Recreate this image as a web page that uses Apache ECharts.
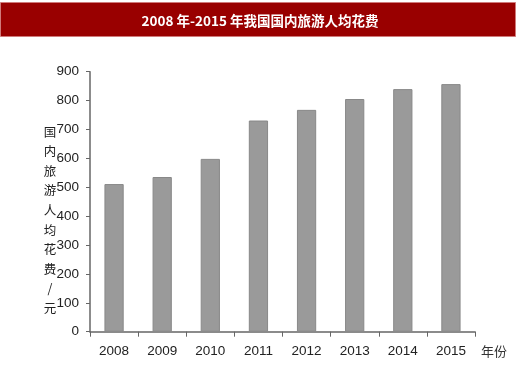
<!DOCTYPE html>
<html>
<head>
<meta charset="utf-8">
<script src="https://cdn.jsdelivr.net/npm/echarts@6/dist/echarts.min.js"></script>
<style>
html,body{margin:0;padding:0;background:#fff;}
#chart{width:520px;height:370px;}
</style>
</head>
<body>
<div id="chart"></div>
<script>
var titleText = '2008 年-2015 年我国国内旅游人均花费';
var categories = ['2008', '2009', '2010', '2011', '2012', '2013', '2014', '2015'];
var spending = [511, 535.4, 598.2, 731, 767.9, 805.5, 839.7, 857];
var yTicks = { min: 0, max: 900, interval: 100 };
var yAxisName = '国内旅游人均花费/元';
var xAxisName = '年份';

var numFont = "'Liberation Sans Narrow', 'Liberation Sans', Arial, sans-serif";
var cjkFont = "'Noto Sans CJK SC', sans-serif";

var chart = echarts.init(document.getElementById('chart'), null, { renderer: 'canvas' });
chart.setOption({
  backgroundColor: '#ffffff',
  animation: false,
  title: {
    text: titleText,
    left: 'center',
    top: 13,
    padding: 0,
    textStyle: {
      color: '#ffffff',
      fontSize: 13.5,
      fontWeight: 'bold',
      lineHeight: 15,
      fontFamily: "'Noto Sans CJK SC', sans-serif"
    }
  },
  graphic: [
    {
      type: 'rect',
      z: -1,
      shape: { x: 0.5, y: 2.5, width: 515, height: 34 },
      style: { fill: '#990000', stroke: '#d07a7a', lineWidth: 1 }
    },
    {
      type: 'text',
      x: 50,
      y: 220,
      style: {
        text: yAxisName.split('').join('\n'),
        fontSize: 12.5,
        lineHeight: 19.6,
        fill: '#222222',
        fontFamily: cjkFont,
        align: 'center',
        verticalAlign: 'middle'
      }
    }
  ],
  grid: { left: 90, right: 45, top: 71.7, bottom: 38.3 },
  xAxis: {
    type: 'category',
    data: categories,
    boundaryGap: true,
    name: xAxisName,
    nameLocation: 'end',
    nameGap: 6,
    nameTextStyle: {
      fontSize: 13,
      color: '#333333',
      fontFamily: cjkFont,
      verticalAlign: 'top',
      align: 'left',
      padding: [13, 0, 0, 0]
    },
    axisLine: { show: true, lineStyle: { color: '#666666', width: 1.5 } },
    axisTick: { show: true, length: 5, alignWithLabel: false, lineStyle: { color: '#666666', width: 1 } },
    axisLabel: { margin: 13, fontSize: 13.5, color: '#222222', fontFamily: numFont },
    splitLine: { show: false }
  },
  yAxis: {
    type: 'value',
    min: yTicks.min,
    max: yTicks.max,
    interval: yTicks.interval,
    axisLine: { show: true, lineStyle: { color: '#666666', width: 1.5 } },
    axisTick: { show: true, length: 4, lineStyle: { color: '#666666', width: 1 } },
    axisLabel: { margin: 11, fontSize: 13.5, color: '#222222', fontFamily: numFont },
    splitLine: { show: false }
  },
  series: [
    {
      type: 'bar',
      data: spending,
      barCategoryGap: '60%',
      itemStyle: { color: '#9a9a9a', borderColor: '#888888', borderWidth: 1 }
    }
  ]
});
</script>
</body>
</html>
